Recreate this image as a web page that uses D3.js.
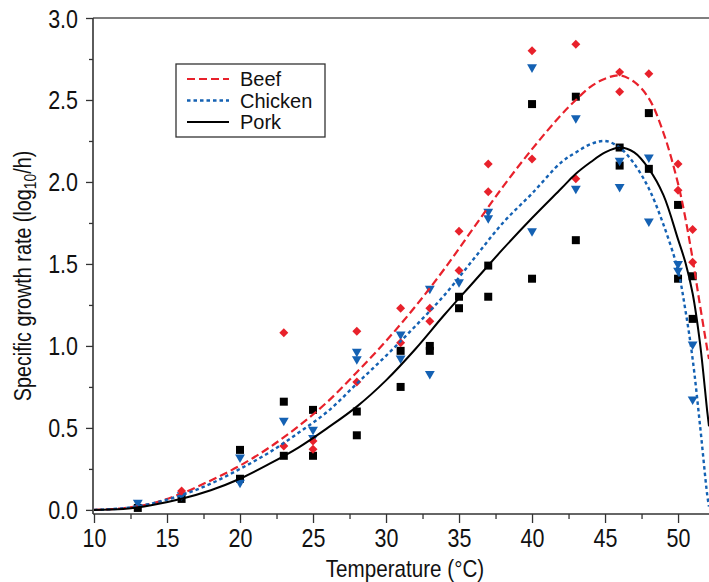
<!DOCTYPE html>
<html>
<head>
<meta charset="utf-8">
<script src="https://cdn.jsdelivr.net/npm/d3@7"></script>
<style>
  body { margin: 0; background: #fff; }
  text { font-family: "Liberation Sans", Arial, Helvetica, sans-serif; }
</style>
</head>
<body>
<div id="viz"></div>
<script>
// fitted model curves
const fitTemps   = [10, 12, 14, 16, 18, 20, 22, 24, 26, 28, 30, 32, 34, 36, 38, 40, 42, 43, 44, 45, 46, 47, 48, 49, 50, 50.5, 51, 51.5, 52, 52.12];
const beefFit    = [0, 0.01, 0.04, 0.10, 0.18, 0.27, 0.38, 0.51, 0.66, 0.84, 1.03, 1.24, 1.47, 1.72, 1.97, 2.20, 2.41, 2.50, 2.58, 2.63, 2.65, 2.61, 2.51, 2.30, 1.99, 1.78, 1.53, 1.25, 0.98, 0.92];
const chickenFit = [0, 0.01, 0.04, 0.09, 0.16, 0.25, 0.35, 0.47, 0.60, 0.77, 0.94, 1.12, 1.31, 1.53, 1.75, 1.93, 2.12, 2.18, 2.23, 2.25, 2.21, 2.11, 1.96, 1.74, 1.46, 1.22, 0.92, 0.52, 0.09, 0.02];
const porkFit    = [0, 0.005, 0.03, 0.068, 0.12, 0.19, 0.28, 0.38, 0.50, 0.63, 0.79, 0.98, 1.19, 1.39, 1.59, 1.78, 1.96, 2.05, 2.12, 2.18, 2.21, 2.18, 2.08, 1.92, 1.65, 1.51, 1.32, 1.02, 0.60, 0.51];

// observed growth rates
const beefT = [16, 23, 23, 25, 25, 28, 28, 31, 31, 33, 33, 35, 35, 37, 37, 40, 40, 43, 43, 46, 46, 48, 50, 50, 51, 51];
const beefV = [0.115, 1.08, 0.39, 0.42, 0.37, 1.09, 0.78, 1.23, 1.02, 1.23, 1.15, 1.70, 1.46, 2.11, 1.94, 2.80, 2.14, 2.84, 2.02, 2.67, 2.55, 2.66, 2.11, 1.95, 1.71, 1.51];

const chickenT = [13, 16, 20, 20, 23, 25, 25, 28, 28, 31, 31, 33, 33, 35, 37, 37, 40, 40, 43, 43, 46, 46, 48, 48, 50, 50, 51, 51];
const chickenV = [0.045, 0.09, 0.32, 0.166, 0.545, 0.49, 0.44, 0.965, 0.92, 1.07, 0.925, 1.35, 0.83, 1.39, 1.82, 1.78, 2.70, 1.70, 2.39, 1.96, 2.13, 1.97, 2.15, 1.76, 1.50, 1.46, 1.01, 0.675];

const porkT = [13, 16, 20, 20, 23, 23, 25, 25, 28, 28, 31, 31, 33, 33, 35, 35, 37, 37, 40, 40, 43, 43, 46, 46, 48, 48, 50, 50, 51, 51];
const porkV = [0.012, 0.067, 0.366, 0.19, 0.66, 0.33, 0.61, 0.33, 0.60, 0.455, 0.97, 0.75, 1.00, 0.97, 1.30, 1.23, 1.49, 1.30, 2.475, 1.41, 2.52, 1.645, 2.21, 2.10, 2.42, 2.08, 1.86, 1.41, 1.425, 1.165];

const xTicks = [10, 15, 20, 25, 30, 35, 40, 45, 50];
const yTicks = [0, 0.5, 1.0, 1.5, 2.0, 2.5, 3.0];

const RED = "#e8212b", BLUE = "#1461b3", BLACK = "#000";
const series = [
  { name: "Beef", fit: beefFit, T: beefT, V: beefV, color: RED, dash: "8,4", width: 2.2, mark: "diamond" },
  { name: "Chicken", fit: chickenFit, T: chickenT, V: chickenV, color: BLUE, dash: "3.5,3", width: 2.4, mark: "triangle" },
  { name: "Pork", fit: porkFit, T: porkT, V: porkV, color: BLACK, dash: null, width: 2, mark: "square" }
];

const W = 709, H = 582;
const plotL = 93, plotR = 709, plotT = 18, plotB = 514;
const squeeze = 0.86; // the original lettering is a bit condensed

const svg = d3.select("#viz").append("svg")
  .attr("width", W)
  .attr("height", H);

const x = d3.scaleLinear().domain([10, 52.12]).range([plotL + 1, plotR]);
const y = d3.scaleLinear().domain([-0.025, 3.0]).range([plotB, plotT]);

svg.append("defs").append("clipPath").attr("id", "plotclip")
  .append("rect").attr("x", plotL).attr("y", plotT).attr("width", plotR - plotL).attr("height", plotB - plotT);

// top frame line
svg.append("line")
  .attr("x1", plotL).attr("x2", plotR).attr("y1", plotT).attr("y2", plotT)
  .attr("stroke", "#555").attr("stroke-width", 1.6);

// x axis: minor then major ticks
const xMinor = d3.range(12.5, 52, 5);
svg.append("g").attr("transform", `translate(0,${plotB})`)
  .call(d3.axisBottom(x).tickValues(xMinor).tickSize(5).tickFormat(""))
  .call(g => g.select(".domain").remove())
  .call(g => g.selectAll("line").attr("stroke", "#333").attr("stroke-width", 1.3));

const xAxis = svg.append("g").attr("transform", `translate(0,${plotB})`)
  .call(d3.axisBottom(x).tickValues(xTicks).tickSize(9).tickSizeOuter(0).tickFormat(d3.format("d")));
xAxis.select(".domain").remove();
xAxis.selectAll("line").attr("stroke", "#333").attr("stroke-width", 1.3);
xAxis.selectAll("text")
  .attr("y", 33).attr("dy", 0)
  .attr("fill", "#111")
  .style("font-size", "25px")
  .attr("transform", `scale(${squeeze},1)`);

// y axis
const yMinor = d3.range(0.25, 3, 0.5);
svg.append("g").attr("transform", `translate(${plotL},0)`)
  .call(d3.axisLeft(y).tickValues(yMinor).tickSize(4).tickFormat(""))
  .call(g => g.select(".domain").remove())
  .call(g => g.selectAll("line").attr("stroke", "#333").attr("stroke-width", 1.3));

const yAxis = svg.append("g").attr("transform", `translate(${plotL},0)`)
  .call(d3.axisLeft(y).tickValues(yTicks).tickSize(7).tickSizeOuter(0).tickFormat(d3.format(".1f")));
yAxis.select(".domain").remove();
yAxis.selectAll("line").attr("stroke", "#333").attr("stroke-width", 1.3);
yAxis.selectAll("text")
  .attr("x", -15 / squeeze).attr("dy", "0.36em")
  .attr("fill", "#111")
  .style("font-size", "25px")
  .attr("transform", `scale(${squeeze},1)`);

// axis lines
svg.append("line")
  .attr("x1", plotL).attr("x2", plotR).attr("y1", plotB).attr("y2", plotB)
  .attr("stroke", "#333").attr("stroke-width", 1.6);
svg.append("line")
  .attr("x1", plotL).attr("x2", plotL).attr("y1", plotT).attr("y2", plotB)
  .attr("stroke", "#333").attr("stroke-width", 1.6);

// axis titles
svg.append("text")
  .attr("transform", `translate(${(plotL + plotR) / 2 + 4},577) scale(${squeeze},1)`)
  .attr("text-anchor", "middle")
  .attr("fill", "#111")
  .style("font-size", "24px")
  .text("Temperature (°C)");

const yTitle = svg.append("text")
  .attr("transform", `translate(31,276) rotate(-90) scale(${squeeze},1)`)
  .attr("text-anchor", "middle")
  .attr("fill", "#111")
  .style("font-size", "23px");
yTitle.append("tspan").text("Specific growth rate (log");
yTitle.append("tspan").attr("dy", 5).style("font-size", "16px").text("10");
yTitle.append("tspan").attr("dy", -5).text("/h)");

// marks
const plot = svg.append("g").attr("clip-path", "url(#plotclip)");

const symbolFor = {
  diamond: { type: d3.symbolSquare, size: 40, rot: 45 },
  triangle: { type: d3.symbolTriangle, size: 42, rot: 180 },
  square: { type: d3.symbolSquare, size: 64, rot: 0 }
};

// points: pork first, then chicken, beef on top
[series[2], series[1], series[0]].forEach(s => {
  const sym = symbolFor[s.mark];
  plot.append("g").selectAll("path")
    .data(s.T.map((t, i) => [t, s.V[i]]))
    .join("path")
    .attr("d", d3.symbol().type(sym.type).size(sym.size))
    .attr("transform", d => `translate(${x(d[0])},${y(d[1])}) rotate(${sym.rot})`)
    .attr("fill", s.color);
});

const line = d3.line()
  .x(d => x(d[0]))
  .y(d => y(d[1]))
  .curve(d3.curveCatmullRom.alpha(0.5));

series.forEach(s => {
  plot.append("path")
    .datum(fitTemps.map((t, i) => [t, s.fit[i]]))
    .attr("d", line)
    .attr("fill", "none")
    .attr("stroke", s.color)
    .attr("stroke-width", s.width)
    .attr("stroke-dasharray", s.dash);
});

// legend
const legend = svg.append("g").attr("transform", "translate(176,64)");
legend.append("rect")
  .attr("width", 149).attr("height", 73)
  .attr("fill", "#fff")
  .attr("stroke", "#333").attr("stroke-width", 1.3);

series.forEach((s, i) => {
  const ly = 15 + i * 21.5;
  legend.append("line")
    .attr("x1", 11).attr("x2", 53).attr("y1", ly).attr("y2", ly)
    .attr("stroke", s.color)
    .attr("stroke-width", s.width)
    .attr("stroke-dasharray", s.dash);
  legend.append("text")
    .attr("x", 64).attr("y", ly).attr("dy", "0.36em")
    .attr("fill", "#111")
    .style("font-size", "20px")
    .text(s.name);
});
</script>
</body>
</html>
